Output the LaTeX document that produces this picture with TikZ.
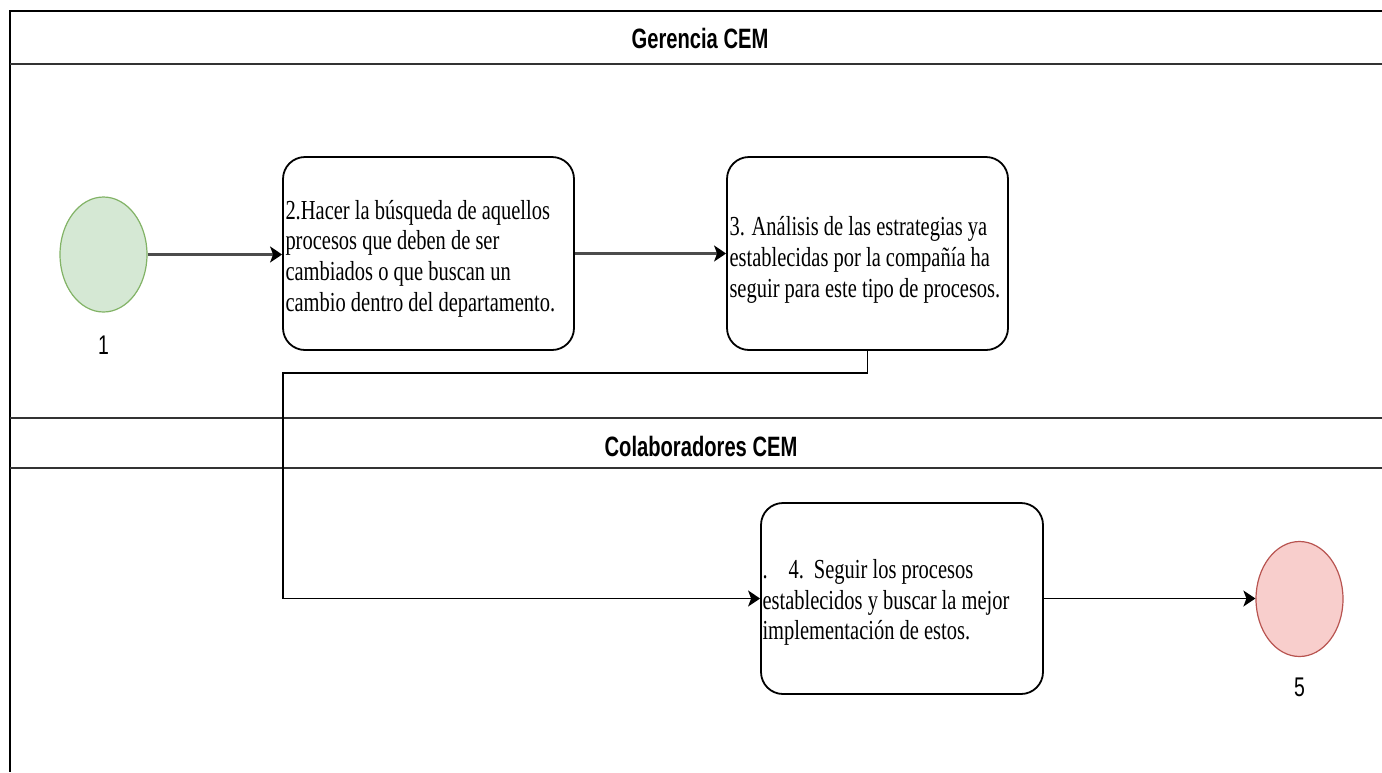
\documentclass[tikz,border=0pt]{standalone}
\usepackage{fontspec}
\usetikzlibrary{shapes.geometric,arrows.meta}
\newfontfamily\lanefont{Liberation Sans}[FakeStretch=0.72]
\newfontfamily\stepfont{Liberation Serif}[FakeStretch=0.745]
\definecolor{startfill}{HTML}{D5E8D4}
\definecolor{startline}{HTML}{82B366}
\definecolor{endfill}{HTML}{F8CECC}
\definecolor{endline}{HTML}{B85450}
\tikzset{
  lanetitle/.style={font=\lanefont\fontsize{14pt}{16pt}\selectfont\bfseries, inner sep=0},
  lanerule/.style={line width=1pt, black!80},
  stepbox/.style={draw=black, line width=0.9pt, rounded corners=11pt, fill=white,
    inner sep=0, minimum height=96.5pt},
  steptext/.style={font=\stepfont\fontsize{13.75pt}{15.4pt}\selectfont,
    align=left, inner sep=0, anchor=west},
  event/.style={ellipse, inner sep=0, line width=0.6pt,
    minimum width=43.5pt, minimum height=57.5pt},
  evlabel/.style={font=\lanefont\fontsize{13.5pt}{15pt}\selectfont, inner sep=0},
  flowthick/.style={line width=1.3pt, black!70,
    -{Stealth[length=6pt,width=8pt,inset=1.5pt,black]}},
  flowthin/.style={line width=0.8pt, black,
    -{Stealth[length=6pt,width=8pt,inset=1.5pt]}},
}
\begin{document}
\begin{tikzpicture}[x=0.5pt, y=-0.5pt]
\useasboundingbox (0,0) rectangle (1382,772);
\fill[white] (0,0) rectangle (1382,772);

% pool frame and lane separators
\draw[line width=1.1pt, black] (1382,11) -- (10,11) -- (10,772);
\draw[lanerule] (10,64) -- (1382,64);
\draw[lanerule] (10,418) -- (1382,418);
\draw[lanerule] (10,468) -- (1382,468);

\node[lanetitle] (lane1) at (700,38) {Gerencia CEM};
\node[lanetitle] (lane2) at (701,446) {Colaboradores CEM};

% start and end events
\node[event, fill=startfill, draw=startline] (e1) at (103.5,254.5) {};
\node[evlabel] (l1) at (103.5,345) {1};
\node[event, fill=endfill, draw=endline] (e5) at (1299.5,599) {};
\node[evlabel] (l5) at (1299.5,687) {5};

% process steps
\node[stepbox, minimum width=145.5pt] (b2) at (428.5,253.5) {};
\node[steptext] (t2) at ([xshift=1.5pt,yshift=-2.6pt]b2.west)
  {2.Hacer la búsqueda de aquellos\\procesos que deben de ser\\cambiados o que buscan un\\cambio dentro del departamento.};

\node[stepbox, minimum width=140.5pt] (b3) at (867.5,253.5) {};
\node[steptext] (t3) at ([xshift=1.5pt,yshift=-3.2pt]b3.west)
  {3. Análisis de las estrategias ya\\establecidas por la compañía ha\\seguir para este tipo de procesos.};

\node[stepbox, minimum width=141pt, minimum height=95.5pt] (b4) at (902,598.5) {};
\node[steptext] (t4) at ([xshift=1pt,yshift=-2pt]b4.west)
  {.\hspace{10.5pt}4.\hspace{5pt}Seguir los procesos\\establecidos y buscar la mejor\\implementación de estos.};

% sequence flows
\coordinate (k1) at (283,373);
\draw[flowthick] (e1.east) -- (b2.west |- e1.east);
\draw[flowthick] (b2.east) -- (b3.west);
\draw[flowthin] (b3.south) |- (k1) |- (b4.west);
\draw[flowthin] (b4.east) -- (e5.west |- b4.east);
\end{tikzpicture}
\end{document}
